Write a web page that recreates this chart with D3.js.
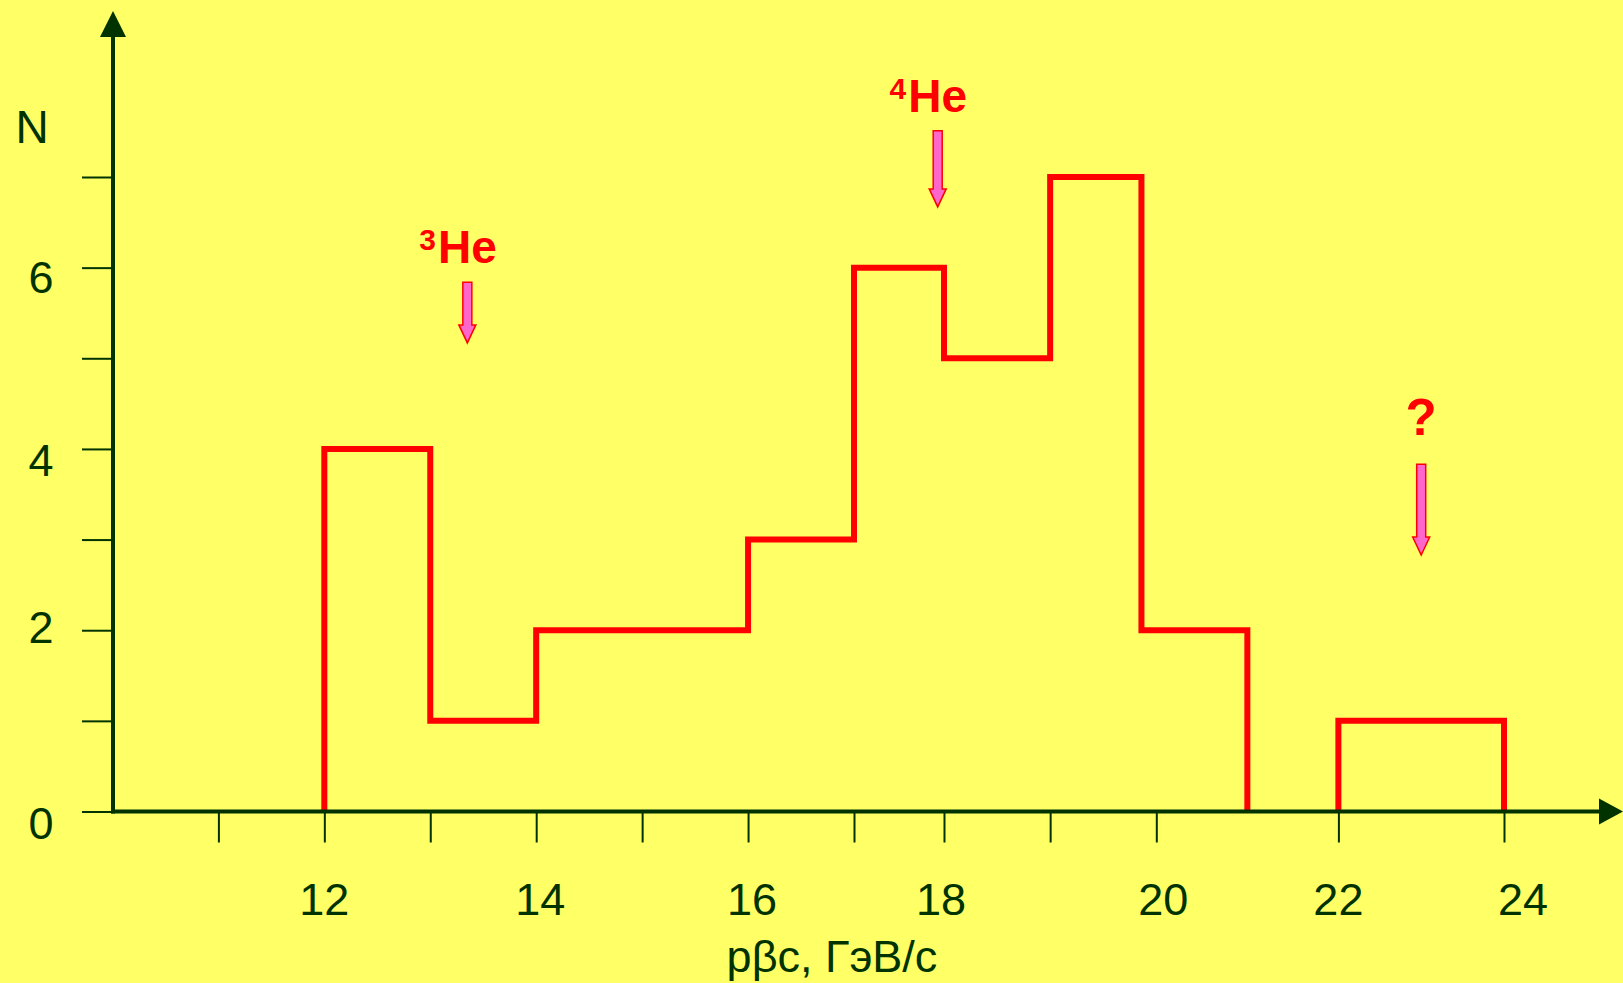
<!DOCTYPE html>
<html>
<head>
<meta charset="utf-8">
<script src="https://cdn.jsdelivr.net/npm/d3@7"></script>
<style>
  html, body { margin: 0; padding: 0; background: #ffff66; }
  svg { display: block; }
  text { font-family: "Liberation Sans", Arial, sans-serif; }
</style>
</head>
<body>
<svg id="chart" width="1623" height="983"></svg>
<script>
// Histogram of pβc for the selected events
const binEdges  = [12, 13, 14, 16, 17, 18, 19, 19.86, 21, 22, 24];
const binCounts = [4, 1, 2, 3, 6, 5, 7, 2, 0, 1];

// Axis ticks
const xTickValues = [11, 12, 13, 14, 15, 16, 17, 18, 19, 20, 22, 24];
const xTickLabels = [12, 14, 16, 18, 20, 22, 24];
const yTickValues = [0, 1, 2, 3, 4, 5, 6, 7];
const yTickLabels = [0, 2, 4, 6];

// Expected positions of the isotopes (arrow x, arrow tip and tail in N units)
const markerMass  = ["3", "4", ""];
const markerName  = ["He", "He", "?"];
const markerX     = [13.35, 17.93, 23.0];
const markerTip   = [5.17, 6.67, 2.83];
const markerTail  = [5.84, 7.51, 3.83];

const xTitle = "pβc, ГэВ/с";
const yTitle = "N";

// ---- layout ----
const axisColor = "#003300";
const lineRed = "#ff0000";
const arrowPink = "#ff66cc";
const origin = { x: 113, y: 811.5 };
// small hand-placed shifts of the tick labels (px)
const xLabelShift = [0, 4, 4, -3, 7, 0, 19];
const yLabelShift = [27, 13, 27, 25];

const svg = d3.select("#chart");

// The drawn momentum axis is not uniform; a polylinear scale follows it.
const x = d3.scaleLinear()
  .domain([11, 17, 18, 20, 22, 24])
  .range([218.4, 854, 944, 1156.3, 1338.4, 1504]);

const y = d3.scaleLinear()
  .domain([0, 7])
  .range([origin.y, 177]);

// ---- histogram outline (split where the count drops to zero) ----
const groups = [];
let cur = null;
binCounts.forEach((c, i) => {
  if (c > 0) {
    if (!cur) { cur = []; groups.push(cur); cur.push([binEdges[i], 0]); }
    cur.push([binEdges[i], c], [binEdges[i + 1], c]);
    if (i === binCounts.length - 1 || binCounts[i + 1] === 0) {
      cur.push([binEdges[i + 1], 0]);
      cur = null;
    }
  }
});
const line = d3.line().x(d => x(d[0])).y(d => y(d[1]));
svg.append("g").selectAll("path")
  .data(groups)
  .join("path")
  .attr("d", line)
  .attr("fill", "none")
  .attr("stroke", lineRed)
  .attr("stroke-width", 6)
  .attr("stroke-linejoin", "miter");

// ---- axes ----
const yAxis = d3.axisLeft(y).tickValues(yTickValues).tickSize(31).tickFormat("");
const gy = svg.append("g").attr("transform", `translate(${origin.x},0)`).call(yAxis);
gy.select(".domain").remove();
gy.selectAll(".tick line").attr("stroke", axisColor).attr("stroke-width", 2);

const xAxis = d3.axisBottom(x).tickValues(xTickValues).tickSize(31).tickFormat("");
const gx = svg.append("g").attr("transform", `translate(0,${origin.y})`).call(xAxis);
gx.select(".domain").remove();
gx.selectAll(".tick line").attr("stroke", axisColor).attr("stroke-width", 2);

// axis lines with arrowheads
svg.append("line")
  .attr("x1", origin.x).attr("y1", origin.y + 2)
  .attr("x2", origin.x).attr("y2", 36)
  .attr("stroke", axisColor).attr("stroke-width", 4);
svg.append("path")
  .attr("d", `M${origin.x - 13},37 L${origin.x + 13},37 L${origin.x},11 Z`)
  .attr("fill", axisColor);

svg.append("line")
  .attr("x1", origin.x - 2).attr("y1", origin.y)
  .attr("x2", 1600).attr("y2", origin.y)
  .attr("stroke", axisColor).attr("stroke-width", 4);
svg.append("path")
  .attr("d", `M1599,${origin.y - 13} L1599,${origin.y + 13} L1623,${origin.y} Z`)
  .attr("fill", axisColor);

// tick labels
svg.append("g").selectAll("text")
  .data(yTickLabels)
  .join("text")
  .attr("x", 41)
  .attr("y", (d, i) => y(d) + yLabelShift[i])
  .attr("text-anchor", "middle")
  .attr("font-size", 45)
  .attr("fill", axisColor)
  .text(d => d);

svg.append("g").selectAll("text")
  .data(xTickLabels)
  .join("text")
  .attr("x", (d, i) => x(d) + xLabelShift[i])
  .attr("y", 915)
  .attr("text-anchor", "middle")
  .attr("font-size", 45)
  .attr("fill", axisColor)
  .text(d => d);

// axis titles
svg.append("text")
  .attr("x", 832).attr("y", 972)
  .attr("text-anchor", "middle")
  .attr("font-size", 45)
  .attr("fill", axisColor)
  .text(xTitle);

svg.append("text")
  .attr("x", 32).attr("y", 143)
  .attr("text-anchor", "middle")
  .attr("font-size", 46)
  .attr("fill", axisColor)
  .text(yTitle);

// ---- isotope markers ----
const shaftHalf = 4.5, headHalf = 8.5, headLen = 18;
markerX.forEach((mx, i) => {
  const cx = x(mx);
  const tip = y(markerTip[i]);
  const tail = y(markerTail[i]);
  const hb = tip - headLen;
  const g = svg.append("g");
  g.append("path")
    .attr("d", `M${cx - shaftHalf},${tail} L${cx + shaftHalf},${tail} L${cx + shaftHalf},${hb}` +
               ` L${cx + headHalf},${hb} L${cx},${tip} L${cx - headHalf},${hb} L${cx - shaftHalf},${hb} Z`)
    .attr("fill", arrowPink)
    .attr("stroke", lineRed)
    .attr("stroke-width", 1.5)
    .attr("stroke-linejoin", "miter");

  const isIsotope = markerMass[i] !== "";
  const gap = isIsotope ? 19 : 29;
  const name = g.append("text")
    .attr("x", cx)
    .attr("y", tail - gap)
    .attr("text-anchor", "middle")
    .attr("font-size", isIsotope ? 46 : 51)
    .attr("font-weight", "bold")
    .attr("fill", lineRed)
    .text(markerName[i]);

  if (isIsotope) {
    const bb = name.node().getBBox();
    g.append("text")
      .attr("x", bb.x - 2)
      .attr("y", tail - gap - 13)
      .attr("text-anchor", "end")
      .attr("font-size", 30)
      .attr("font-weight", "bold")
      .attr("fill", lineRed)
      .text(markerMass[i]);
  }
});
</script>
</body>
</html>
